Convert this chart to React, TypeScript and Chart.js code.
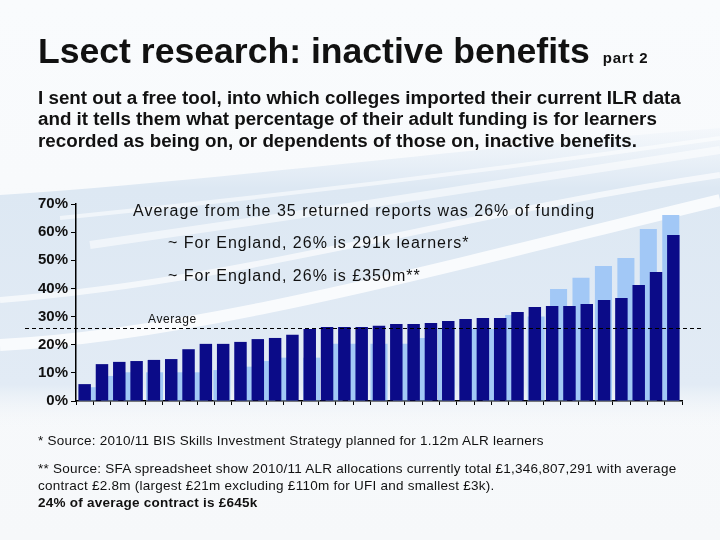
import React, { useEffect, useRef } from "react";
import { Chart, registerables } from "chart.js";

Chart.register(...registerables);

// ---- data ----
const collegeShares: number[] = [
  6.0, 13.1, 13.9, 14.2, 14.6, 14.9, 18.4, 20.3, 20.3, 21.0, 22.0, 22.4, 23.5,
  25.6, 26.3, 26.3, 26.3, 26.7, 27.4, 27.4, 27.7, 28.4, 29.1, 29.5, 29.5, 31.6,
  33.4, 33.8, 33.8, 34.5, 35.9, 36.6, 41.2, 45.8, 59.0,
];
const collegeLabels: string[] = collegeShares.map((_, i) => "C" + (i + 1));

const part1Shares: number[] = [
  4.9, 8.9, 10.2, 10.2, 10.2, 10.2, 11.0, 12.2, 14.2, 15.4, 15.4, 20.3, 20.3,
  20.3, 20.3, 22.4, 25.6, 25.6, 25.6, 30.6, 30.0, 39.8, 43.8, 48.0, 50.8, 61.1,
  66.1,
];
const part1Labels: string[] = part1Shares.map((_, i) => "P" + (i + 1));

const averageShare = 26;
const yTicks: number[] = [0, 10, 20, 30, 40, 50, 60, 70];

const FONT = "'Liberation Sans Narrow', 'Liberation Sans', sans-serif";

const averageLinePlugin = {
  id: "averageLine",
  afterDatasetsDraw(chart: any) {
    const y = chart.scales.y.getPixelForValue(averageShare);
    const ctx = chart.ctx;
    ctx.save();
    ctx.strokeStyle = "#000";
    ctx.lineWidth = 1;
    ctx.setLineDash([4, 3]);
    ctx.beginPath();
    ctx.moveTo(25, Math.round(y) + 0.5);
    ctx.lineTo(chart.chartArea.right + 20, Math.round(y) + 0.5);
    ctx.stroke();
    ctx.restore();
  },
};

function Background() {
  return (
    <svg
      width={720}
      height={540}
      style={{ position: "absolute", left: 0, top: 0 }}
    >
      <defs>
        <linearGradient id="bg" x1="0" y1="0" x2="0" y2="1">
          <stop offset="0" stopColor="#f9fbfd" />
          <stop offset="1" stopColor="#f6f8fa" />
        </linearGradient>
        <linearGradient id="band" x1="0" y1="0" x2="0" y2="1">
          <stop offset="0" stopColor="#e3ecf6" stopOpacity="0.2" />
          <stop offset="0.2" stopColor="#dde8f3" />
          <stop offset="0.85" stopColor="#e2ebf5" />
          <stop offset="1" stopColor="#f6f8fa" stopOpacity="0" />
        </linearGradient>
      </defs>
      <rect x={0} y={0} width={720} height={540} fill="url(#bg)" />
      <path
        d="M0 195 C 200 182, 450 150, 720 128 L 720 430 C 500 428, 250 428, 0 428 Z"
        fill="url(#band)"
      />
      <path
        d="M0 345 C 200 335, 450 265, 720 200"
        stroke="#ffffff"
        strokeWidth={12}
        fill="none"
        opacity={0.8}
      />
      <path
        d="M0 300 C 250 280, 450 215, 720 175"
        stroke="#ffffff"
        strokeWidth={6}
        fill="none"
        opacity={0.65}
      />
      <path
        d="M90 245 C 300 215, 500 185, 720 150"
        stroke="#ffffff"
        strokeWidth={8}
        fill="none"
        opacity={0.55}
      />
      <path
        d="M60 218 C 260 198, 480 172, 720 138"
        stroke="#ffffff"
        strokeWidth={4}
        fill="none"
        opacity={0.55}
      />
    </svg>
  );
}

export default function App() {
  const canvasRef = useRef<HTMLCanvasElement | null>(null);

  useEffect(() => {
    document.body.style.margin = "0";
    Chart.defaults.font.family = FONT;
    const canvas = canvasRef.current;
    if (!canvas) return;
    const chart = new Chart(canvas, {
      type: "bar",
      data: {
        labels: collegeLabels,
        datasets: [
          {
            label: "Part 2",
            data: collegeShares,
            xAxisID: "x",
            backgroundColor: "#0b0b88",
            barPercentage: 0.72,
            categoryPercentage: 1,
            grouped: false,
          },
          {
            label: "Part 1",
            data: part1Shares,
            xAxisID: "x2",
            backgroundColor: "#a2c8f6",
            barPercentage: 0.76,
            categoryPercentage: 1,
            grouped: false,
          },
        ],
      },
      plugins: [averageLinePlugin],
      options: {
        responsive: false,
        animation: false,
        devicePixelRatio: 1,
        layout: { padding: { top: 204, left: 0, right: 38, bottom: 129 } },
        plugins: {
          legend: { display: false },
          tooltip: { enabled: false },
        },
        scales: {
          x: {
            type: "category",
            labels: collegeLabels,
            offset: true,
            ticks: { display: false },
            grid: {
              drawOnChartArea: false,
              drawTicks: true,
              tickLength: 4,
              color: "#000",
              offset: true,
            },
            border: { display: true, color: "#000", width: 1.5 },
            afterFit: (scale: any) => {
              scale.height = 10;
            },
          },
          x2: {
            type: "category",
            labels: part1Labels,
            offset: true,
            display: false,
          },
          y: {
            min: 0,
            max: 70,
            afterBuildTicks: (scale: any) => {
              scale.ticks = yTicks.map((v) => ({ value: v }));
            },
            ticks: {
              callback: (v: any) => v + "%",
              color: "#111",
              padding: 3,
              font: { size: 15, weight: "bold", family: FONT },
            },
            grid: {
              drawOnChartArea: false,
              drawTicks: true,
              tickLength: 5,
              color: "#000",
            },
            border: { display: true, color: "#000", width: 1.5 },
            afterFit: (scale: any) => {
              scale.width = 76;
            },
          },
        },
      },
    });
    return () => chart.destroy();
  }, []);

  const text = (extra: React.CSSProperties): React.CSSProperties => ({
    position: "absolute",
    fontFamily: FONT,
    color: "#111",
    whiteSpace: "nowrap",
    margin: 0,
    ...extra,
  });

  return (
    <div
      style={{
        position: "relative",
        width: 720,
        height: 540,
        overflow: "hidden",
      }}
    >
      <Background />
      <canvas
        ref={canvasRef}
        width={720}
        height={540}
        style={{ position: "absolute", left: 0, top: 0, width: 720, height: 540 }}
      />
      <div
        style={text({
          left: 38,
          top: 33,
          fontSize: 35.6,
          lineHeight: "36px",
          fontWeight: "bold",
        })}
      >
        Lsect research: inactive benefits
        <span style={{ fontSize: 15, marginLeft: 13, letterSpacing: 0.8 }}>part 2</span>
      </div>
      <div
        style={text({
          left: 38,
          top: 86.8,
          fontSize: 18.8,
          lineHeight: "21.5px",
          fontWeight: "bold",
        })}
      >
        I sent out a free tool, into which colleges imported their current ILR data
        <br />
        and it tells them what percentage of their adult funding is for learners
        <br />
        recorded as being on, or dependents of those on, inactive benefits.
      </div>
      <div style={text({ left: 133, top: 200.6, fontSize: 16, lineHeight: "19.2px", letterSpacing: 1 })}>
        Average from the 35 returned reports was 26% of funding
      </div>
      <div style={text({ left: 168, top: 232.6, fontSize: 16, lineHeight: "19.2px", letterSpacing: 1 })}>
        ~ For England, 26% is 291k learners*
      </div>
      <div style={text({ left: 168, top: 265.6, fontSize: 16, lineHeight: "19.2px", letterSpacing: 1 })}>
        ~ For England, 26% is £350m**
      </div>
      <div style={text({ left: 148, top: 312, fontSize: 12, lineHeight: "14.4px", letterSpacing: 0.6 })}>
        Average
      </div>
      <div style={text({ left: 38, top: 431.6, fontSize: 13.5, lineHeight: "17px", letterSpacing: 0.25 })}>
        * Source: 2010/11 BIS Skills Investment Strategy planned for 1.12m ALR learners
      </div>
      <div style={text({ left: 38, top: 459.6, fontSize: 13.5, lineHeight: "17px", letterSpacing: 0.25 })}>
        ** Source: SFA spreadsheet show 2010/11 ALR allocations currently total £1,346,807,291 with average
        <br />
        contract £2.8m (largest £21m excluding £110m for UFI and smallest £3k).
        <br />
        <b>24% of average contract is £645k</b>
      </div>
    </div>
  );
}
